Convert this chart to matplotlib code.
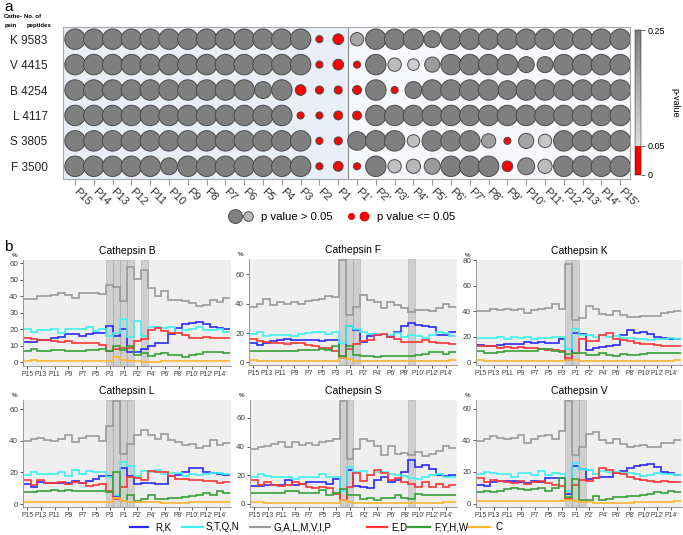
import numpy as np
import matplotlib
matplotlib.use('Agg')
import matplotlib.pyplot as plt
from matplotlib.colors import ListedColormap, Normalize
from matplotlib.lines import Line2D
from matplotlib.legend_handler import HandlerTuple

plt.rcParams['font.family'] = ['Liberation Sans', 'DejaVu Sans']

# ---------------- panel a data ----------------
positions = ['P15', 'P14', 'P13', 'P12', 'P11', 'P10', 'P9', 'P8', 'P7', 'P6', 'P5', 'P4',
             'P3', 'P2', 'P1', "P1'", "P2'", "P3'", "P4'", "P5'", "P6'", "P7'", "P8'",
             "P9'", "P10'", "P11'", "P12'", "P13'", "P14'", "P15'"]
cathepsins = ['K', 'V', 'B', 'L', 'S', 'F']
n_peptides = [9583, 4415, 4254, 4117, 3805, 3500]

# bubble size (relative) and p-value per position
size_K = [23] * 13 + [8, 12] + [15, 23, 23, 23, 19, 23, 23, 23, 23, 23, 23, 23, 23, 23, 23]
pval_K = [0.3] * 13 + [0.01, 0.001] + [0.17, 0.3, 0.3, 0.3, 0.25, 0.3, 0.3, 0.3, 0.3, 0.3, 0.3, 0.3, 0.3, 0.3, 0.3]
size_V = [23] * 13 + [8, 12] + [8, 23, 15, 13, 17, 23, 23, 23, 23, 18, 18, 23, 23, 23, 23]
pval_V = [0.3] * 13 + [0.02, 0.001] + [0.03, 0.3, 0.12, 0.08, 0.19, 0.3, 0.3, 0.3, 0.3, 0.3, 0.3, 0.3, 0.3, 0.3, 0.3]
size_B = [23] * 10 + [19, 23] + [12, 9, 9] + [10, 23, 8, 19, 23, 23, 23, 23, 21, 23, 23, 23, 23, 23, 23]
pval_B = [0.3] * 12 + [0.001, 0.02, 0.02] + [0.01, 0.3, 0.03, 0.3, 0.3, 0.3, 0.3, 0.3, 0.3, 0.3, 0.3, 0.3, 0.3, 0.3, 0.3]
size_L = [23] * 12 + [8, 8, 10] + [10] + [23] * 14
pval_L = [0.3] * 12 + [0.02, 0.02, 0.01] + [0.01] + [0.3] * 14
size_S = [23] * 13 + [8, 9] + [21, 23, 23, 14, 23, 23, 23, 16, 8, 17, 15, 23, 23, 23, 23]
pval_S = [0.3] * 13 + [0.02, 0.02] + [0.3, 0.3, 0.3, 0.11, 0.3, 0.3, 0.3, 0.18, 0.03, 0.17, 0.1, 0.3, 0.3, 0.3, 0.3]
size_F = [23] * 5 + [19] + [23] * 7 + [8, 11] + [8, 23, 15, 16, 18, 23, 23, 23, 12, 19, 16, 23, 23, 23, 23]
pval_F = [0.3] * 13 + [0.02, 0.005] + [0.03, 0.3, 0.11, 0.13, 0.19, 0.3, 0.3, 0.3, 0.001, 0.22, 0.12, 0.3, 0.3, 0.3, 0.3]

# ---------------- panel b data ----------------
tick_labels_b = ['P15', 'P13', 'P11', 'P9', 'P7', 'P5', 'P3', 'P1', "P2'", "P4'", "P6'",
                 "P8'", "P10'", "P12'", "P14'"]
groups = ['R,K', 'S,T,Q,N', 'G,A,L,M,V,I,P', 'E,D', 'F,Y,H,W', 'C']

rk_B = [12.5, 12.5, 13.5, 13.5, 15, 15.5, 17, 17, 16, 17, 17.5, 17.5, 22, 16, 20, 6.5, 6.5, 8, 10, 11.5, 11.5, 17, 21, 23, 24, 24.5, 23.5, 21.5, 21, 20]
stqn_B = [20, 18.5, 19.5, 19.5, 20, 18, 20, 20.5, 20, 21.5, 19, 20.5, 16, 18, 26, 15.5, 25, 16, 21.5, 21.5, 21, 21.5, 18, 19.5, 20.5, 21.5, 19.5, 19.5, 20.5, 18.5]
galm_B = [38.5, 38.5, 40, 40, 40.5, 42, 40.5, 39, 42, 42, 42, 41.5, 47, 45.5, 37, 58, 50.5, 56, 45, 40, 43, 38, 38, 37, 36, 34, 35, 37.5, 36.5, 39]
ed_B = [14.5, 14, 13.5, 13.5, 13, 12.5, 13, 12, 11.5, 11.5, 11.5, 10.5, 7, 8, 8.5, 8.5, 13, 14, 19.5, 21, 19, 18, 17.5, 16.5, 15, 15, 15.5, 14.5, 14.5, 15]
fyhw_B = [7, 8, 7, 7, 7.5, 7.5, 7, 7, 7, 7.5, 7.5, 8, 7, 10, 7.5, 10, 4.5, 5.5, 4, 5, 5.5, 4.5, 4.5, 3.5, 4.5, 5, 6, 6, 6, 5.5]
c_B = [1, 1.5, 1, 1, 1, 1, 1, 1, 1, 1, 1, 0.8, 0.8, 3.5, 1.5, 1, 1, 0.5, 0.5, 0.5, 0.7, 0.7, 0.7, 0.7, 0.7, 0.7, 0.7, 0.7, 0.8, 1]

rk_F = [13, 12, 13, 14.5, 15, 16, 15.5, 15, 15.5, 15, 14.5, 15.5, 15.5, 3, 24.5, 22, 14, 18, 19, 19.5, 17, 20.5, 24.5, 27, 25.5, 25, 24, 18.5, 19, 20.5]
stqn_F = [19.5, 20.5, 18, 19, 19, 18.5, 18, 19.5, 20, 20.5, 20.5, 19.5, 21, 13, 25, 23, 21, 19.5, 19.5, 19.5, 19, 20, 17.5, 19, 18, 16.5, 18.5, 20.5, 20, 18]
galm_F = [38, 40, 43, 39, 41, 40, 41, 39.5, 42, 42.5, 43.5, 45, 44.5, 70, 32, 37.5, 46, 42.5, 41, 37, 41, 39, 37, 34.5, 36, 36, 35, 37, 39.5, 38]
ed_F = [16, 14.5, 14, 13, 13, 12.5, 13.5, 13, 12, 11, 10, 10, 7.5, 4, 9, 12.5, 14.5, 15, 19, 19.5, 17.5, 16, 14, 14, 14, 15, 14, 13.5, 13, 12.5]
fyhw_F = [7.5, 7.5, 7.5, 7.5, 8, 8, 8, 8.5, 8.5, 8.5, 9, 8.5, 11, 4, 11, 5, 4, 4.5, 3.5, 4, 4.5, 4, 4.5, 4, 5, 6, 7, 7, 6, 7]
c_F = [1.5, 1.2, 1.2, 1.2, 1.2, 1.2, 1.2, 1.2, 1.2, 1, 1, 1, 1, 3, 2, 1, 0.7, 0.7, 0.7, 0.7, 0.7, 0.7, 0.7, 0.7, 0.7, 0.7, 1, 1, 1.2, 1.5]

rk_K = [13.5, 13, 13, 13.5, 14, 14, 14, 15.5, 15, 16, 15, 15, 18.5, 1.5, 23, 22, 9.5, 11, 12, 12.5, 13.5, 21, 25, 23, 24, 22.5, 20, 19, 18, 18]
stqn_K = [19, 19, 19, 19.5, 18.5, 20, 19, 20, 18.5, 19, 19, 19.5, 20, 10, 26, 21, 21.5, 20, 21, 20, 20.5, 19, 19, 18, 18, 17.5, 18, 18.5, 19, 18.5]
galm_K = [40, 40.5, 42, 41, 41.5, 41, 42, 39, 41, 42, 42.5, 45.5, 41.5, 77, 33.5, 35, 44.5, 42, 38, 37, 40, 37, 35.5, 35.5, 36.5, 36, 36.5, 38.5, 39.5, 40.5]
ed_K = [13, 12.5, 12.5, 11, 12, 11, 12, 11.5, 11, 10, 9.5, 9.5, 9, 3.5, 7.5, 18.5, 17, 16.5, 21.5, 23, 18.5, 17.5, 16.5, 15, 14.5, 14, 13.5, 13, 13, 12.5]
fyhw_K = [9, 7.5, 7, 8, 8.5, 8.5, 8.5, 8.5, 9, 10, 10, 8.5, 8, 6.5, 7, 7.5, 5.5, 6, 7, 5.5, 5, 6.5, 6, 5.5, 6.5, 7, 7.5, 7.5, 7, 7]
c_K = [1.5, 1.2, 1.2, 1.2, 1.2, 1.2, 1.2, 1.2, 1.2, 1.2, 1.2, 1.2, 1.2, 2, 1.5, 1, 1, 1, 1, 1, 1, 1, 1, 1, 1, 1, 1, 1.2, 1.2, 1.5]

rk_L = [12.5, 11, 14, 13.5, 13.5, 13.5, 13.5, 14.5, 13, 14.5, 16, 17.5, 17.5, 5, 23, 18, 12.5, 13, 13.5, 12.5, 12.5, 17.5, 18.5, 20, 22.5, 23, 20.5, 19.5, 19, 18.5]
stqn_L = [18.5, 20.5, 19, 19, 19, 20, 18, 21.5, 19, 21, 20.5, 20.5, 17, 6, 26.5, 24, 18, 21, 20.5, 21.5, 19, 19.5, 19.5, 17.5, 19, 18.5, 19, 19.5, 19.5, 19]
galm_L = [40, 41.5, 42, 40.5, 40, 41, 43.5, 39, 42, 43, 43, 40, 49.5, 65, 32, 38, 43.5, 47, 43.5, 41, 44.5, 40.5, 39.5, 37.5, 38, 35.5, 37, 40.5, 37.5, 38.5]
ed_L = [15.5, 12, 15, 13, 13, 14, 12.5, 14, 13, 11.5, 12, 12.5, 8, 3, 11, 17, 16.5, 15, 21, 20.5, 20.5, 17.5, 16, 16, 15, 15, 14.5, 14.5, 13, 14]
fyhw_L = [7.5, 7.5, 8, 8, 9, 8.5, 9, 8, 8, 8, 8.5, 8, 7.5, 20, 2, 6, 2, 3, 6, 3, 3, 3.5, 4, 4.5, 5, 6, 7, 6, 8.5, 7]
c_L = [1.5, 1.5, 1.5, 1.5, 1.5, 1.2, 1.2, 1.2, 1.2, 1.2, 1, 1, 1, 4, 2, 1.5, 1, 1, 1, 1, 0.5, 0.5, 0.5, 0.5, 1, 1, 1, 1, 1, 1.5]

rk_S = [12.5, 12.5, 13.5, 13.5, 13, 17, 13, 14, 15, 15, 15, 14, 17.5, 3, 24, 12.5, 12, 11, 17, 18.5, 15.5, 17, 22.5, 31, 26, 27, 24.5, 20.5, 19.5, 20]
stqn_S = [18.5, 21, 19.5, 19, 19, 18.5, 17.5, 18.5, 19, 19, 21, 19, 19, 9, 25.5, 22, 23, 20, 22.5, 22, 21, 20.5, 19.5, 18, 17.5, 19, 20, 21, 19, 18.5]
galm_S = [38.5, 39.5, 40.5, 42, 43, 40, 43.5, 41, 42.5, 41, 43.5, 44, 45.5, 72, 31.5, 38.5, 45, 44, 40.5, 34, 40.5, 35, 35.5, 34, 36.5, 33.5, 35, 37, 40.5, 39]
ed_S = [16.5, 13, 15, 13, 12.5, 13, 15, 14, 12, 11, 12, 11, 7, 2.5, 11.5, 21.5, 16, 20, 23.5, 21.5, 17, 18, 15.5, 14, 11.5, 15, 11.5, 14, 12, 13]
fyhw_S = [8, 7.5, 7.5, 7.5, 8, 9, 9, 8, 7.5, 8, 10, 6.5, 7.5, 10.5, 6.5, 6, 3.5, 4.5, 3, 4, 4.5, 6.5, 4.5, 3.5, 7, 6, 6, 6.5, 6.5, 6.5]
c_S = [1.5, 1.2, 1, 1, 1, 1, 1, 1, 1, 1, 1, 1, 1, 2.5, 1.5, 1, 1, 1, 1, 1, 0.5, 1, 1, 1, 1, 1, 1, 1, 1.2, 1.5]

rk_V = [12, 11, 13.5, 14.5, 14, 14.5, 13.5, 13, 14, 13.5, 16, 16, 16, 6, 23.5, 22, 15.5, 16, 16.5, 16.5, 19, 20.5, 22.5, 24, 24.5, 25, 23, 20, 19.5, 18]
stqn_V = [18.5, 20, 19, 18.5, 18.5, 17, 19.5, 19, 18, 20.5, 18, 19.5, 18.5, 8, 25.5, 22, 21, 18.5, 20.5, 20, 20, 19, 19, 18.5, 17.5, 18, 19.5, 18.5, 18.5, 18]
galm_V = [39.5, 41, 42.5, 41.5, 40.5, 41.5, 43, 38.5, 40.5, 42.5, 43.5, 41, 46, 65, 30.5, 36, 44, 45, 40, 38.5, 41, 37.5, 36, 36.5, 37, 35.5, 36, 38, 38.5, 40]
ed_V = [16, 13.5, 15, 14, 13.5, 13, 14, 12.5, 13.5, 14, 13, 12, 11, 3, 11.5, 15, 14.5, 16, 22.5, 21, 19, 18.5, 16.5, 15.5, 15, 14.5, 13.5, 14, 13.5, 13.5]
fyhw_V = [7.5, 8, 7.5, 8, 9, 9.5, 9, 8.5, 9, 9.5, 8, 9.5, 16, 4, 15.5, 2.5, 2.5, 5, 2.5, 3, 4, 4, 4.5, 5, 5.5, 6, 7, 6.5, 8, 7]
c_V = [1.5, 1.5, 1.5, 1.5, 1.5, 1.5, 1.5, 1.5, 1.5, 1.5, 1.5, 1.5, 1.5, 2, 1.5, 1, 1, 0.5, 0.5, 0.5, 0.5, 0.5, 0.5, 1, 1, 1, 1, 1, 1.2, 1.5]

# significant positions (p <= 0.05), shaded in panel b
sig_B = ['P3', 'P2', 'P1', "P1'", "P3'"]
sig_F = ['P2', 'P1', "P1'", "P9'"]
sig_K = ['P2', 'P1']
sig_L = ['P3', 'P2', 'P1', "P1'"]
sig_S = ['P2', 'P1', "P9'"]
sig_V = ['P2', 'P1', "P1'"]

# ---------------- drawing ----------------
W, H = 683, 535
fig = plt.figure(figsize=(W / 100, H / 100), dpi=100)


def box(l, t, r, b):
    return [l / W, 1 - b / H, (r - l) / W, (b - t) / H]


# colormap: red below 0.05, grey ramp above
vals = np.linspace(0, 0.25, 256)
frac = np.clip((vals - 0.05) / 0.2, 0, 1)
g = (0xdc * (1 - frac) + 0x7f * frac) / 255
cols = np.stack([g, g, g, np.ones_like(g)], axis=1)
cols[vals < 0.05] = [1, 0, 0, 1]
cmap = ListedColormap(cols)
norm = Normalize(0, 0.25)

ax = fig.add_axes(box(63, 27, 630, 179))
x = np.arange(len(positions))
ax.axvspan(-1, 14.5, color='#e9eef7', zorder=0)
ax.axvspan(14.5, 31, color='#f7f8fb', zorder=0)
ax.axvline(14.5, color='#8c8c8c', lw=0.8, zorder=1)
sizes = [size_K, size_V, size_B, size_L, size_S, size_F]
pvals = [pval_K, pval_V, pval_B, pval_L, pval_S, pval_F]
for r in range(len(cathepsins)):
    d = np.array(sizes[r]) * 0.64
    c = cmap(norm(np.minimum(pvals[r], 0.25)))
    ax.scatter(x, np.full(len(x), r), s=d ** 2, c=c, edgecolors='#4a4a4a',
               linewidths=0.7, zorder=3)
ax.set_xlim(-0.64, 29.52)
ax.set_ylim(5.5, -0.48)
ax.set_xticks(x)
ax.set_xticklabels(positions, rotation=-45, ha='left', va='center',
                   rotation_mode='anchor', fontsize=8, color='#333333')
ax.tick_params(axis='x', length=4, color='#999999', pad=4)
ax.set_yticks(range(len(cathepsins)))
ax.set_yticklabels(['%s %d' % (c, n) for c, n in zip(cathepsins, n_peptides)],
                   fontsize=8.5, color='#222222')
ax.tick_params(axis='y', length=0, pad=11)
for s in ax.spines.values():
    s.set_color('#a8a8a8')
    s.set_linewidth(0.8)

hdr = dict(fontsize=4.3, fontweight='bold', va='center')
fig.text(4 / W, 1 - 16 / H, 'Cathe-', **hdr)
fig.text(5 / W, 1 - 26 / H, 'psin', **hdr)
fig.text(24 / W, 1 - 16 / H, 'No. of', **hdr)
fig.text(27 / W, 1 - 26 / H, 'peptides', **hdr)
fig.text(4 / W, 1 - 0 / H, 'a', fontsize=11, va='top')
fig.text(4 / W, 1 - 240 / H, 'b', fontsize=11, va='top')

cax = fig.add_axes(box(635, 30, 641, 175))
cb = fig.colorbar(plt.cm.ScalarMappable(norm=norm, cmap=cmap), cax=cax, ticks=[0, 0.05, 0.25])
cb.ax.set_yticklabels(['0', '0.05', '0.25'])
cb.ax.tick_params(labelsize=6.5, length=3, width=0.6, color='#555555', pad=2)
cb.outline.set_linewidth(0.3)
cb.set_label('p-value', rotation=270, fontsize=6.5, labelpad=10)

h1 = (Line2D([], [], marker='o', ls='', ms=10, mfc='#7f7f7f', mec='#505050', mew=0.7),
      Line2D([], [], marker='o', ls='', ms=7, mfc='#b8b8b8', mec='#505050', mew=0.7))
h2 = (Line2D([], [], marker='o', ls='', ms=4.5, mfc='red', mec='#c00000', mew=0.5),
      Line2D([], [], marker='o', ls='', ms=6.5, mfc='red', mec='#c00000', mew=0.5))
fig.legend([h1, h2], ['p value > 0.05', 'p value <= 0.05'],
           handler_map={tuple: HandlerTuple(ndivide=None, pad=0.0)},
           loc='center', bbox_to_anchor=(0.5, 1 - 217 / H), ncol=2, frameon=False,
           fontsize=8.2, handlelength=2.4, columnspacing=1.0, handletextpad=0.5)

# panel b
line_colors = ['#2b2bff', '#3ff2f2', '#9a9a9a', '#ff3535', '#38a038', '#ffb52e']
panels = [
    ('B', (23, 260, 231, 366), (-2.2, 62), [0, 10, 20, 30, 40, 50, 60],
     [rk_B, stqn_B, galm_B, ed_B, fyhw_B, c_B], sig_B),
    ('F', (249, 259, 457, 365), (-1.8, 70.5), [0, 20, 40, 60],
     [rk_F, stqn_F, galm_F, ed_F, fyhw_F, c_F], sig_F),
    ('K', (476, 260, 682, 365), (-2.2, 80.3), [0, 20, 40, 60, 80],
     [rk_K, stqn_K, galm_K, ed_K, fyhw_K, c_K], sig_K),
    ('L', (23, 400, 231, 507), (-1.9, 65.9), [0, 20, 40, 60],
     [rk_L, stqn_L, galm_L, ed_L, fyhw_L, c_L], sig_L),
    ('S', (250, 400, 457, 507), (-2.1, 72.5), [0, 20, 40, 60],
     [rk_S, stqn_S, galm_S, ed_S, fyhw_S, c_S], sig_S),
    ('V', (476, 400, 682, 507), (-2.2, 65.4), [0, 20, 40, 60],
     [rk_V, stqn_V, galm_V, ed_V, fyhw_V, c_V], sig_V),
]
edges = np.arange(len(positions) + 1) - 0.5
for name, rect, ylim, yt, series, sig in panels:
    a = fig.add_axes(box(*rect))
    a.set_facecolor('#efefef')
    for p in sig:
        i = positions.index(p)
        a.axvspan(i - 0.5, i + 0.5, facecolor='#b0b0b0', alpha=0.5,
                  edgecolor='#a0a0a0', lw=0.6, zorder=1)
    for vals_, col in zip(series, line_colors):
        a.stairs(vals_, edges, baseline=None, color=col, lw=1.2, zorder=2)
    a.set_xlim(-0.6, 29.6)
    a.set_ylim(*ylim)
    a.set_yticks(yt)
    a.set_xticks(np.arange(0, 30, 2))
    a.set_xticklabels(tick_labels_b, fontsize=4.9)
    a.tick_params(axis='y', labelsize=5.8)
    a.tick_params(colors='#404040', length=2, width=0.6, pad=1.5)
    for s in ['top', 'right']:
        a.spines[s].set_visible(False)
    for s in ['left', 'bottom']:
        a.spines[s].set_color('#8a8a8a')
        a.spines[s].set_linewidth(0.6)
    a.set_title('Cathepsin ' + name, fontsize=7.5, pad=4)
    a.text(-0.04, 1.03, '%', transform=a.transAxes, fontsize=4.5, ha='center')

# bottom legend, placed like the reference row
leg_lines = [(130, 148), (182, 203), (250, 270), (367, 387), (408, 430), (468, 490)]
leg_text_x = [155, 206, 274, 391, 434, 496]
ly = 1 - 527 / H
for (x0, x1), tx, col, lab in zip(leg_lines, leg_text_x, line_colors, groups):
    fig.add_artist(Line2D([x0 / W, x1 / W], [ly, ly], color=col, lw=1.6,
                          transform=fig.transFigure))
    fig.text(tx / W, ly, lab, fontsize=7, va='center')

fig.savefig('out.png', dpi=100)
